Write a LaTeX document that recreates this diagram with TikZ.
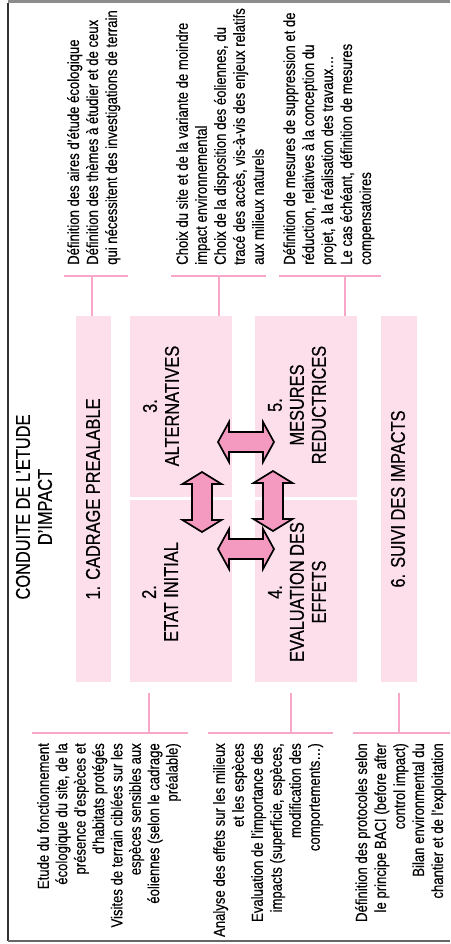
\documentclass[tikz,border=0pt]{standalone}
\usepackage{fontspec}
\setmainfont{Liberation Sans}[FakeStretch=0.82, FakeBold=0.35]
\definecolor{boxpink}{HTML}{FDDFEB}
\definecolor{linepink}{HTML}{F7A8C8}
\definecolor{arrowpink}{HTML}{F49AC0}
\begin{document}
\begin{tikzpicture}[x=1pt,y=-1pt,
  box/.style={fill=boxpink, draw=none, inner sep=0, minimum width=#1},
  lbl/.style={rotate=90, align=center, inner sep=0, font=\fontsize{20}{22}\selectfont},
  note/.style={rotate=90, inner sep=0, font=\fontsize{16}{19}\selectfont},
  rule/.style={draw=linepink, line width=2pt},
  conn/.style={draw=linepink, line width=1.4pt},
  arr/.style={fill=arrowpink, draw=black, line width=1.7pt, line join=miter},
  harrow/.pic={\path[arr] (-28,0) -- (-17,-20) -- (-17,-10) -- (17,-10) -- (17,-20)
     -- (28,0) -- (17,20) -- (17,10) -- (-17,10) -- (-17,20) -- cycle;},
  varrow/.pic={\path[arr] (0,-30) -- (-19.5,-18) -- (-10,-18) -- (-10,18) -- (-19.5,18)
     -- (0,30) -- (19.5,18) -- (10,18) -- (10,-18) -- (19.5,-18) -- cycle;}]
\useasboundingbox (0,0) rectangle (450,944);

% frame
\draw[draw=black!45, line width=3pt] (8,1.5) -- (450,1.5);
\draw[draw=black!80, line width=1.2pt] (8,3) -- (8,941);
\draw[draw=black!60, line width=1.5pt] (8,941) -- (450,941);

% title
\node[lbl] (title) at (34,507) {CONDUITE DE L'ETUDE\\D'IMPACT};

% the six stages
\node[box=35pt, minimum height=366pt] (box1) at (93.5,499) {};
\node[box=102pt, minimum height=181pt] (box3) at (181,406.5) {};
\node[box=102pt, minimum height=182pt] (box2) at (181,591) {};
\node[box=102pt, minimum height=181pt] (box5) at (306,406.5) {};
\node[box=102pt, minimum height=182pt] (box4) at (306,591) {};
\node[box=36pt, minimum height=366pt] (box6) at (399,499) {};

% arrows between stages 2 to 5
\pic at (246,442) {harrow};
\pic at (246,549) {harrow};
\pic at (202,502) {varrow};
\pic at (273,501) {varrow};

\node[lbl] (l1) at (93,499) {1. CADRAGE PREALABLE};
\node[lbl] (l3) at (161,406) {3.\\ALTERNATIVES};
\node[lbl] (l2) at (160,592) {2.\\ETAT INITIAL};
\node[lbl] (l5) at (297,405) {5.\\MESURES\\REDUCTRICES};
\node[lbl] (l4) at (297,592) {4.\\EVALUATION DES\\EFFETS};
\node[lbl] (l6) at (398,499) {6. SUIVI DES IMPACTS};

% notes above
\node[note, align=left, anchor=north west] (na) at (67,265)
  {Définition des aires d'étude écologique\\
   Définition des thèmes à étudier et de ceux\\
   qui nécessitent des investigations de terrain};
\node[note, align=left, anchor=north west] (nb) at (176,265)
  {Choix du site et de la variante de moindre\\
   impact environnemental\\
   Choix de la disposition des éoliennes, du\\
   tracé des accès, vis-à-vis des enjeux relatifs\\
   aux milieux naturels};
\node[note, align=left, anchor=north west] (nc) at (283,265)
  {Définition de mesures de suppression et de\\
   réduction, relatives à la conception du\\
   projet, à la réalisation des travaux…\\
   Le cas échéant, définition de mesures\\
   compensatoires};

% notes below
\node[note, align=right, anchor=north east, font=\fontsize{16}{18.4}\selectfont] (nd) at (37,743)
  {Etude du fonctionnement\\
   écologique du site, de la\\
   présence d'espèces et\\
   d'habitats protégés\\
   Visites de terrain ciblées sur les\\
   espèces sensibles aux\\
   éoliennes (selon le cadrage\\
   préalable)};
\node[note, align=right, anchor=north east] (ne) at (213,743)
  {Analyse des effets sur les milieux\\
   et les espèces\\
   Evaluation de l'importance des\\
   impacts (superficie, espèces,\\
   modification des\\
   comportements…)};
\node[note, align=right, anchor=north east] (nf) at (355,743)
  {Définition des protocoles selon\\
   le principe BACI (before after\\
   control impact)\\
   Bilan environmental du\\
   chantier et de l'exploitation};

% rules and connectors, top
\coordinate (ra1) at (64,276);  \coordinate (ra2) at (128,276);
\coordinate (rb1) at (171,276); \coordinate (rb2) at (266,276);
\coordinate (rc1) at (279,276); \coordinate (rc2) at (381,276);
\path[rule] (ra1) -- (ra2);
\path[rule] (rb1) -- (rb2);
\path[rule] (rc1) -- (rc2);
\coordinate (ca) at (92,277);
\coordinate (cb) at (219,277);
\coordinate (cc) at (345,277);
\path[conn] (ca) -- (ca |- box1.north);
\path[conn] (cb) -- (cb |- box3.north);
\path[conn] (cc) -- (cc |- box5.north);

% rules and connectors, bottom
\coordinate (rd1) at (32,733);  \coordinate (rd2) at (188,733);
\coordinate (re1) at (208,733); \coordinate (re2) at (333,733);
\coordinate (rf1) at (353,733); \coordinate (rf2) at (450,733);
\path[rule] (rd1) -- (rd2);
\path[rule] (re1) -- (re2);
\path[rule] (rf1) -- (rf2);
\coordinate (cd) at (149,693); \coordinate (cd2) at (149,732);
\coordinate (ce) at (291,693); \coordinate (ce2) at (291,732);
\coordinate (cf) at (399,693); \coordinate (cf2) at (399,732);
\path[conn] (cd) -- (cd2);
\path[conn] (ce) -- (ce2);
\path[conn] (cf) -- (cf2);
\end{tikzpicture}
\end{document}
